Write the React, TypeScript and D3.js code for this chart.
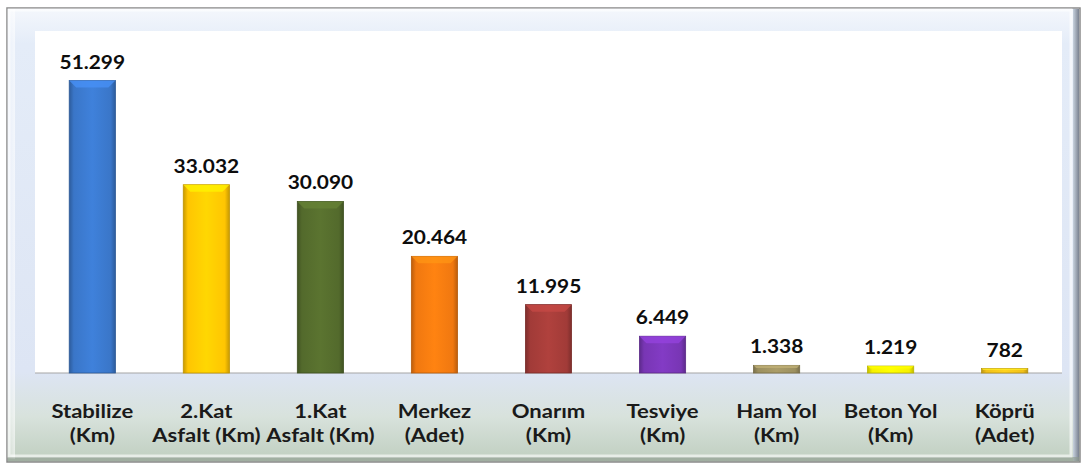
import React from "react";
import * as d3 from "d3";

const categories: string[][] = [
  ["Stabilize", "(Km)"],
  ["2.Kat", "Asfalt (Km)"],
  ["1.Kat", "Asfalt (Km)"],
  ["Merkez", "(Adet)"],
  ["Onarım", "(Km)"],
  ["Tesviye", "(Km)"],
  ["Ham Yol", "(Km)"],
  ["Beton Yol", "(Km)"],
  ["Köprü", "(Adet)"],
];
const values: number[] = [51299, 33032, 30090, 20464, 11995, 6449, 1338, 1219, 782];
const valueLabels: string[] = ["51.299", "33.032", "30.090", "20.464", "11.995", "6.449", "1.338", "1.219", "782"];
const colors: string[] = ["#3a76c8", "#ffc502", "#536a2c", "#f07810", "#a13b38", "#7836b4", "#9c9060", "#f6f000", "#f0c01a"];

const W = 1083;
const H = 466;
const plot = { x0: 35, x1: 1062, y0: 31, y1: 373 };

export default function App() {
  const x = d3
    .scaleBand<number>()
    .domain(values.map((_, i) => i))
    .range([plot.x0, plot.x1])
    .paddingInner(0.595)
    .paddingOuter(0.3);
  const y = d3.scaleLinear().domain([0, 60000]).range([plot.y1, plot.y0]);
  const bw = x.bandwidth();
  const font = "Lato, 'Open Sans', sans-serif";
  const sx = 1.16;

  return (
    <svg width={W} height={H} style={{ position: "absolute", left: 0, top: 0 }}>
      <defs>
        <linearGradient id="frameBg" x1="0" y1="0" x2="0" y2="1">
          <stop offset="0%" stopColor="#f4f7fc" />
          <stop offset="8%" stopColor="#e4ecf8" />
          <stop offset="80%" stopColor="#dde5f4" />
          <stop offset="90%" stopColor="#d8e2dc" />
          <stop offset="100%" stopColor="#bfcebf" />
        </linearGradient>
        <linearGradient id="rightShadow" x1="0" y1="0" x2="1" y2="0">
          <stop offset="0%" stopColor="#c8d2de" />
          <stop offset="100%" stopColor="#7a8290" />
        </linearGradient>
        <linearGradient id="leftBevel" x1="0" y1="0" x2="1" y2="0">
          <stop offset="0%" stopColor="#ffffff" stopOpacity={0.2} />
          <stop offset="100%" stopColor="#ffffff" stopOpacity={0.6} />
        </linearGradient>
        {colors.map((c, i) => {
          const dark = d3.color(c)!.darker(0.7).formatHex();
          const light = d3.color(c)!.brighter(0.25).formatHex();
          return (
            <linearGradient key={i} id={`bar${i}`} x1="0" y1="0" x2="1" y2="0">
              <stop offset="0%" stopColor={dark} />
              <stop offset="10%" stopColor={c} />
              <stop offset="50%" stopColor={light} />
              <stop offset="90%" stopColor={c} />
              <stop offset="100%" stopColor={dark} />
            </linearGradient>
          );
        })}
      </defs>

      {/* outer frame */}
      <rect x={7} y={8} width={1073} height={454} fill="url(#frameBg)" stroke="#8a8a8a" strokeWidth={1.5} />
      <rect x={8} y={9} width={7} height={450} fill="url(#leftBevel)" />
      <rect x={1073} y={9} width={6} height={452} fill="url(#rightShadow)" />
      <rect x={8} y={457} width={1071} height={4} fill="#8c9a8c" opacity={0.6} />
      <rect x={9} y={10} width={1062} height={446} fill="none" stroke="#ffffff" strokeOpacity={0.6} strokeWidth={3} />

      {/* plot area */}
      <rect x={plot.x0} y={plot.y0} width={plot.x1 - plot.x0} height={plot.y1 - plot.y0} fill="#ffffff" />
      <line x1={plot.x0} x2={plot.x1} y1={plot.y1} y2={plot.y1} stroke="#a6a6a6" strokeWidth={1.2} />

      {values.map((v, i) => {
        const bx = x(i)!;
        const by = y(v);
        const h = plot.y1 - by;
        const bev = Math.min(7, h * 0.35);
        const c = colors[i];
        const dark = d3.color(c)!.darker(0.8).formatHex();
        const light = d3.color(c)!.brighter(0.6).formatHex();
        return (
          <g key={i}>
            <rect x={bx} y={by} width={bw} height={h} fill={`url(#bar${i})`} stroke={dark} strokeWidth={0.8} />
            <polygon
              points={`${bx},${by} ${bx + bw},${by} ${bx + bw - bev},${by + bev} ${bx + bev},${by + bev}`}
              fill={light}
              opacity={0.75}
            />
            <text
              transform={`translate(${bx + bw / 2},${by - 12}) scale(${sx},1)`}
              textAnchor="middle"
              fontFamily={font}
              fontWeight={700}
              fontSize={18}
              fill="#0d0d0d"
            >
              {valueLabels[i]}
            </text>
            {categories[i].map((line, j) => (
              <text
                key={j}
                transform={`translate(${bx + bw / 2},${418 + j * 24}) scale(${sx},1)`}
                textAnchor="middle"
                fontFamily={font}
                fontWeight={700}
                fontSize={19}
                fill="#1a1a1a"
              >
                {line}
              </text>
            ))}
          </g>
        );
      })}
    </svg>
  );
}
